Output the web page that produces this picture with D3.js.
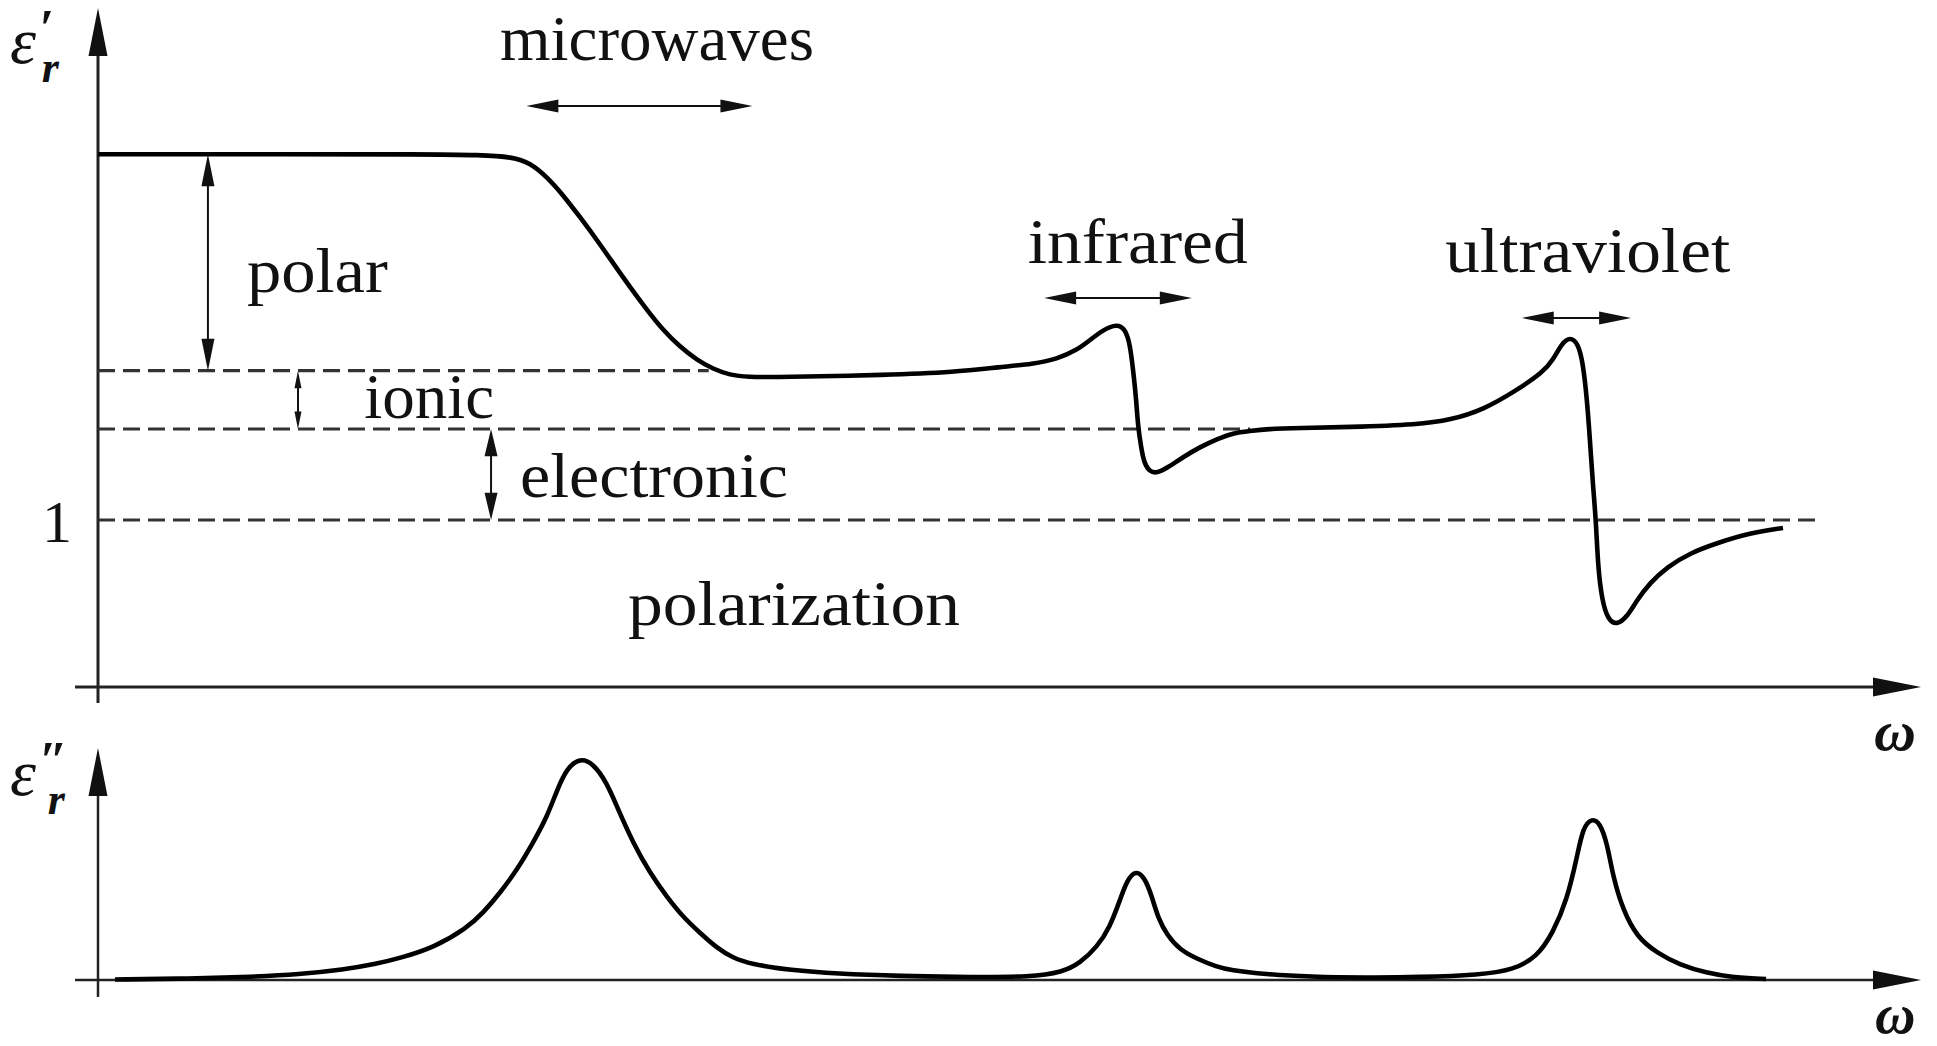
<!DOCTYPE html>
<html>
<head>
<meta charset="utf-8">
<script src="https://cdn.jsdelivr.net/npm/d3@7"></script>
<style>
  body { margin: 0; background: #fff; }
  svg text { font-family: "Liberation Serif", "DejaVu Serif", serif; fill: #111; }
</style>
</head>
<body>
<svg id="chart" width="1937" height="1046"></svg>
<script>
const realOmega = [0, 10.0, 18.0, 20.95, 22.76, 23.70, 24.63, 25.51, 26.44, 27.37, 28.25, 29.18, 30.12, 30.99, 31.93, 32.86, 33.74, 34.67, 35.60, 37.41, 43.3, 47.0,
    49.48, 51.29, 52.61, 53.71, 54.42, 55.13, 55.90, 56.34, 56.61, 56.78, 56.94, 57.05, 57.22, 57.38, 57.71, 58.09, 58.64, 59.52, 60.45, 61.39, 62.26, 63.19, 64.12, 65.93, 68.5, 72.5,
    74.17, 75.98, 77.84, 79.27, 79.81, 80.31, 80.75, 81.18, 81.46, 81.68, 81.84, 82.01, 82.17, 82.28, 82.50, 82.83, 83.32, 83.87, 84.42, 85.13, 86.07, 87.33, 88.81, 90.62, 92.43];
const realEps   = [3.19, 3.19, 3.19, 3.186, 3.174, 3.138, 3.054, 2.946, 2.814, 2.677, 2.539, 2.395, 2.257, 2.138, 2.036, 1.958, 1.904, 1.868, 1.856, 1.856, 1.868, 1.885,
    1.916, 1.934, 1.964, 2.018, 2.078, 2.138, 2.174, 2.144, 2.054, 1.898, 1.737, 1.557, 1.437, 1.341, 1.287, 1.281, 1.311, 1.377, 1.437, 1.485, 1.521, 1.533, 1.545, 1.551, 1.556, 1.572,
    1.599, 1.659, 1.778, 1.886, 1.958, 2.060, 2.096, 2.060, 1.940, 1.719, 1.479, 1.198, 1.000, 0.719, 0.521, 0.401, 0.371, 0.419, 0.521, 0.623, 0.719, 0.802, 0.862, 0.922, 0.952];

// eps''_r (imaginary part / losses)
const imagOmega = [0.93, 5.0, 8.5, 11.0, 13.5, 15.2, 16.57, 18.38, 20.24, 21.12, 22.05, 22.98, 23.86, 24.63, 25.18, 25.73, 26.44, 27.15, 27.92, 28.47, 29.35, 30.28, 31.21, 32.09, 33.02, 33.95, 34.83, 35.77, 38.0, 40.5, 44.0, 48.0,
    51.12, 52.93, 53.87, 54.80, 55.51, 56.06, 56.45, 56.94, 57.43, 57.82, 58.15, 58.64, 59.36, 60.29, 61.39, 62.09, 64.0, 66.5, 69.5, 72.5,
    75.81, 77.62, 78.94, 79.81, 80.58, 81.13, 81.46, 81.95, 82.39, 82.78, 83.11, 83.65, 84.42, 85.52, 86.78, 88.26, 89.52, 91.5];
const imagEps   = [0.002, 0.006, 0.014, 0.024, 0.045, 0.068, 0.095, 0.138, 0.224, 0.289, 0.375, 0.474, 0.591, 0.703, 0.819, 0.914, 0.957, 0.935, 0.849, 0.746, 0.591, 0.461, 0.358, 0.272, 0.203, 0.138, 0.095, 0.069, 0.042, 0.027, 0.017, 0.012,
    0.013, 0.034, 0.073, 0.142, 0.228, 0.345, 0.431, 0.474, 0.440, 0.358, 0.267, 0.194, 0.129, 0.091, 0.056, 0.043, 0.025, 0.014, 0.010, 0.012,
    0.022, 0.043, 0.099, 0.203, 0.345, 0.530, 0.659, 0.698, 0.677, 0.591, 0.444, 0.302, 0.185, 0.116, 0.065, 0.030, 0.013, 0.004];

// contribution levels: top plateau, after polar, after ionic, vacuum
const levelValues = [3.19, 1.894, 1.545, 1.0];
const levelDashEnd = [null, 33.5, 63.2, 94.6];
const contribNames = ["polar", "ionic", "electronic"];
const contribOmega = [6.03, 10.97, 21.56];

// spectral bands
const bandNames = ["microwaves", "infrared", "ultraviolet"];
const bandFrom  = [23.5, 51.9, 78.1];
const bandTo    = [35.9, 60.0, 84.1];

const yTicks = [1];

const svg = d3.select("#chart");

const x = d3.scaleLinear().domain([0, 100]).range([98, 1921]);
const yTop = d3.scaleLinear().domain([0, 4]).range([687, 19]);
const yBot = d3.scaleLinear().domain([0, 1]).range([980, 748]);

function arrowHead(px, py, dir, len, hw) {
    // dir: "up", "down", "left", "right"; (px,py) = tip
    let pts;
    if (dir === "up") pts = [[px, py], [px - hw, py + len], [px + hw, py + len]];
    if (dir === "down") pts = [[px, py], [px - hw, py - len], [px + hw, py - len]];
    if (dir === "right") pts = [[px, py], [px - len, py - hw], [px - len, py + hw]];
    if (dir === "left") pts = [[px, py], [px + len, py - hw], [px + len, py + hw]];
    svg.append("path")
        .attr("d", "M" + pts.map(p => p.join(",")).join("L") + "Z")
        .attr("fill", "#111");
}

function axisPair(y, yMin, yMax, lw) {
    // horizontal omega axis
    svg.append("line")
        .attr("x1", x(-1.26)).attr("x2", x(100) - 30)
        .attr("y1", y(0)).attr("y2", y(0))
        .attr("stroke", "#222").attr("stroke-width", lw);
    arrowHead(x(100), y(0), "right", 48, 9.5);
    // vertical eps axis
    svg.append("line")
        .attr("x1", x(0)).attr("x2", x(0))
        .attr("y1", y(yMin)).attr("y2", y(yMax) + 30)
        .attr("stroke", "#222").attr("stroke-width", lw);
    arrowHead(x(0), y(yMax), "up", 48, 9.5);
}

axisPair(yTop, -0.096, 4.066, 3);
axisPair(yBot, -0.073, 1.0, 2.5);

// tick label "1"
const yAxis = d3.axisLeft(yTop).tickValues(yTicks).tickSize(0).tickPadding(26).tickFormat(d3.format("d"));
const gAxis = svg.append("g").attr("transform", `translate(${x(0)},0)`).call(yAxis);
gAxis.select(".domain").remove();
gAxis.selectAll("text")
    .attr("font-family", "Liberation Serif, serif")
    .attr("font-size", 60)
    .attr("fill", "#111")
    .attr("dy", "0.35em");

// dashed level lines
levelValues.forEach((v, i) => {
    if (levelDashEnd[i] == null) return;
    svg.append("line")
        .attr("x1", x(0)).attr("x2", x(levelDashEnd[i]))
        .attr("y1", yTop(v)).attr("y2", yTop(v))
        .attr("stroke", "#333").attr("stroke-width", 3.2)
        .attr("stroke-dasharray", "17,8");
});

// contribution double arrows
contribNames.forEach((name, i) => {
    const px = x(contribOmega[i]);
    const y1 = yTop(levelValues[i]), y2 = yTop(levelValues[i + 1]);
    const len = Math.min(32, (y2 - y1) * 0.3);
    const hw = name === "ionic" ? 3.5 : 6.5;
    svg.append("line")
        .attr("x1", px).attr("x2", px)
        .attr("y1", y1 + len * 0.5).attr("y2", y2 - len * 0.5)
        .attr("stroke", "#111").attr("stroke-width", 2);
    arrowHead(px, y1, "up", len, hw);
    arrowHead(px, y2, "down", len, hw);
});

// band arrows
const bandArrowEps = [3.479, 2.329, 2.21];
bandNames.forEach((name, i) => {
    const yy = yTop(bandArrowEps[i]);
    const x1 = x(bandFrom[i]), x2 = x(bandTo[i]);
    svg.append("line")
        .attr("x1", x1 + 15).attr("x2", x2 - 15)
        .attr("y1", yy).attr("y2", yy)
        .attr("stroke", "#111").attr("stroke-width", 2);
    arrowHead(x1, yy, "left", 32, 6.5);
    arrowHead(x2, yy, "right", 32, 6.5);
});

// curves (B-spline through the read points smooths reading noise)
const lineTop = d3.line()
    .x((d, i) => x(realOmega[i]))
    .y((d, i) => yTop(realEps[i]))
    .curve(d3.curveBasis);
svg.append("path")
    .attr("d", lineTop(realOmega))
    .attr("fill", "none").attr("stroke", "#000").attr("stroke-width", 4.6)
    .attr("stroke-linejoin", "round");

const lineBot = d3.line()
    .x((d, i) => x(imagOmega[i]))
    .y((d, i) => yBot(imagEps[i]))
    .curve(d3.curveBasis);
svg.append("path")
    .attr("d", lineBot(imagOmega))
    .attr("fill", "none").attr("stroke", "#000").attr("stroke-width", 4.6)
    .attr("stroke-linejoin", "round");

// text labels (x, baseline in data units, width in px)
const labels = [
    { t: "microwaves", w: 22.05, e: 3.754, len: 314 },
    { t: "infrared", w: 51.0, e: 2.539, len: 220 },
    { t: "ultraviolet", w: 73.9, e: 2.485, len: 285 },
    { t: "polar", w: 8.17, e: 2.365, len: 141 },
    { t: "ionic", w: 14.6, e: 1.611, len: 130 },
    { t: "electronic", w: 23.15, e: 1.138, len: 268 },
    { t: "polarization", w: 29.07, e: 0.371, len: 332 }
];
labels.forEach(l => {
    svg.append("text")
        .attr("x", x(l.w)).attr("y", yTop(l.e))
        .attr("font-size", 63)
        .attr("textLength", l.len)
        .attr("lengthAdjust", "spacingAndGlyphs")
        .text(l.t);
});

// axis symbols
function epsLabel(yBase, primes, rShift) {
    const t = svg.append("text").attr("x", 10).attr("y", yBase)
        .attr("font-size", 66).attr("font-style", "italic");
    t.append("tspan").text("ε");
    t.append("tspan").attr("dx", 3).attr("dy", -17)
        .attr("font-size", 52).attr("font-weight", "bold").text(primes);
    t.append("tspan").attr("dx", rShift).attr("dy", 36)
        .attr("font-size", 44).attr("font-weight", "bold").text("r");
}
epsLabel(63, "′", -12);
epsLabel(795, "″", -20);

svg.append("text").attr("x", 1874).attr("y", 750)
    .attr("font-size", 58).attr("font-weight", "bold").attr("font-style", "italic").text("ω");
svg.append("text").attr("x", 1875).attr("y", 1033)
    .attr("font-size", 56).attr("font-weight", "bold").attr("font-style", "italic").text("ω");
</script>
</body>
</html>
